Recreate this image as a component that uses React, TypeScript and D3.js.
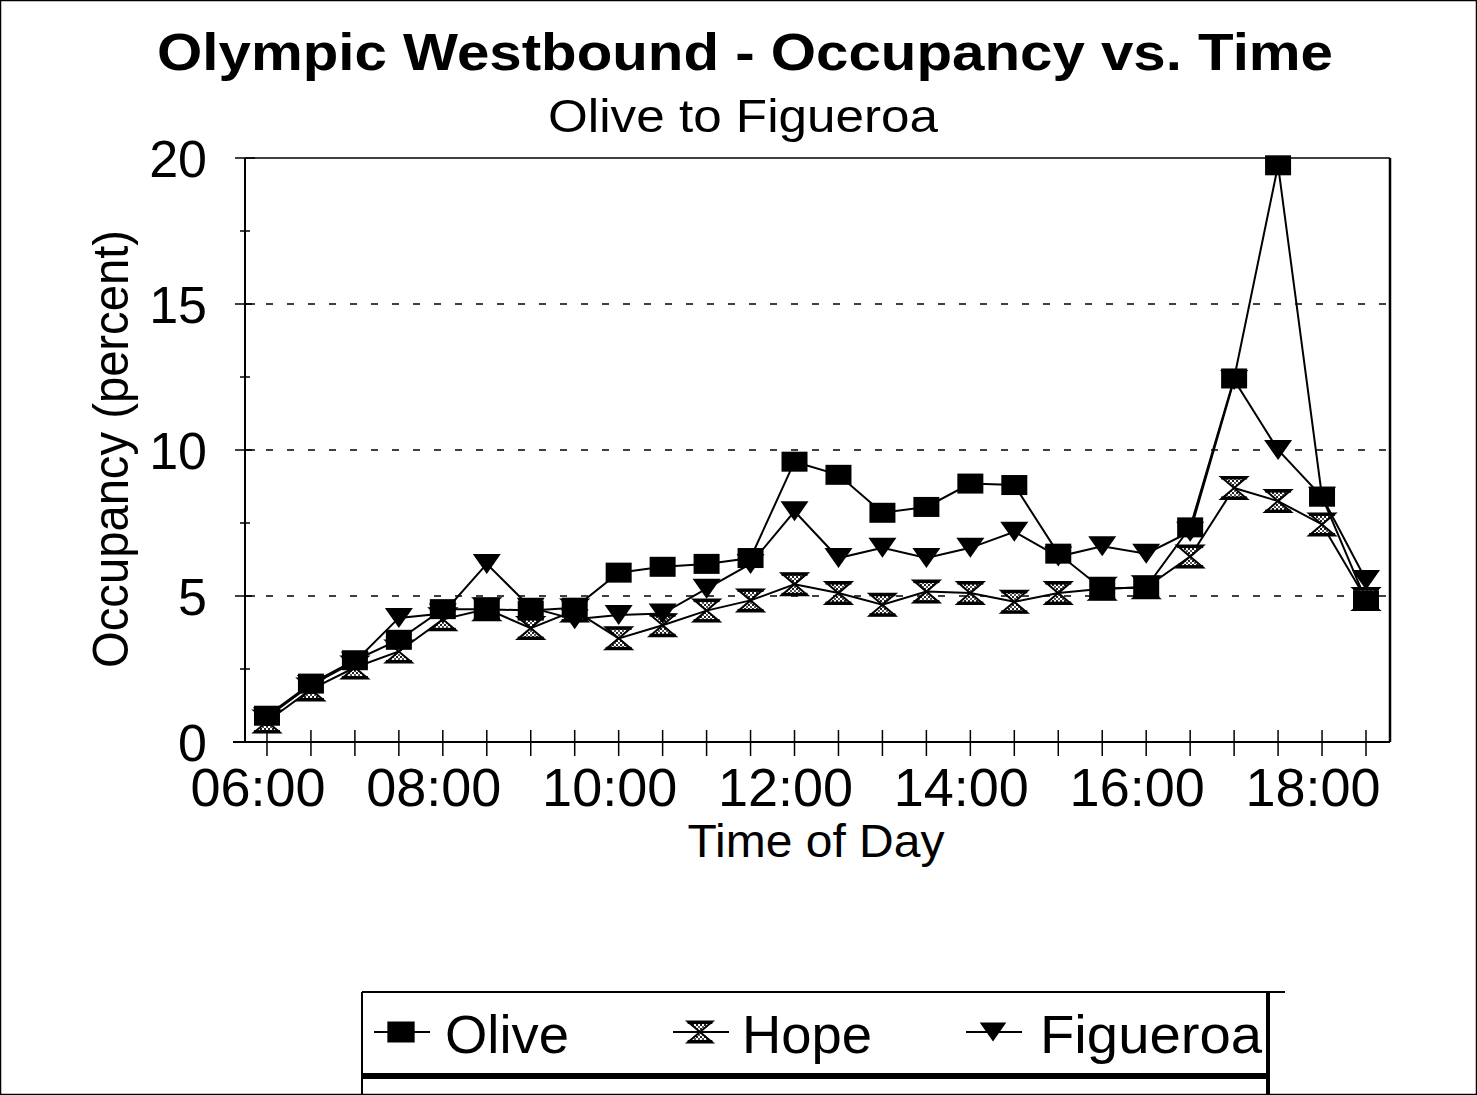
import React from "react";
import * as d3 from "d3";

const times = ["06:00","06:30","07:00","07:30","08:00","08:30","09:00","09:30","10:00","10:30","11:00","11:30","12:00","12:30","13:00","13:30","14:00","14:30","15:00","15:30","16:00","16:30","17:00","17:30","18:00","18:30"];
const olive = [0.9, 2.0, 2.8, 3.5, 4.55, 4.55, 4.5, 4.6, 5.8, 6.0, 6.1, 6.3, 9.6, 9.15, 7.85, 8.05, 8.85, 8.8, 6.45, 5.25, 5.3, 7.35, 12.45, 19.75, 8.4, 4.85];
const hope = [0.7, 1.8, 2.55, 3.1, 4.2, 4.55, 3.9, 4.5, 3.55, 4.0, 4.5, 4.85, 5.4, 5.1, 4.7, 5.15, 5.1, 4.8, 5.1, 5.25, 5.3, 6.35, 8.7, 8.25, 7.45, 4.9];
const figueroa = [0.85, 1.95, 2.75, 4.25, 4.4, 6.1, 4.6, 4.2, 4.35, 4.4, 5.25, 6.1, 7.9, 6.3, 6.65, 6.3, 6.65, 7.2, 6.35, 6.7, 6.45, 7.2, 12.4, 10.0, 8.4, 5.55];
const seriesNames = ["Olive", "Hope", "Figueroa"];
const xTickLabels = ["06:00","08:00","10:00","12:00","14:00","16:00","18:00"];
const yTicks = [0, 5, 10, 15, 20];
const yMinor = [2.5, 7.5, 12.5, 17.5];

const FONT = "'Liberation Sans', Arial, Helvetica, sans-serif";

function toHours(t: string) {
  const [h, m] = t.split(":").map(Number);
  return h + m / 60;
}

function Square({ x, y, w = 26, h = 20 }: any) {
  return <rect x={x - w / 2} y={y - h / 2} width={w} height={h} fill="#000" />;
}
function TriDown({ x, y, w = 28, h = 20 }: any) {
  return <path d={`M${x - w / 2},${y - h / 2}L${x + w / 2},${y - h / 2}L${x},${y + h / 2}Z`} fill="#000" />;
}
function Hourglass({ x, y, w = 26, h = 22 }: any) {
  const t = y - h / 2, b = y + h / 2, l = x - w / 2, r = x + w / 2;
  return (
    <g>
      <path d={`M${l},${t}L${r},${t}L${x},${y}Z M${l},${b}L${r},${b}L${x},${y}Z`} fill="url(#dots)" stroke="#000" strokeWidth={2} strokeLinejoin="miter" />
      <line x1={l} x2={r} y1={t + 1} y2={t + 1} stroke="#000" strokeWidth={3} />
      <line x1={l} x2={r} y1={b - 1} y2={b - 1} stroke="#000" strokeWidth={3} />
    </g>
  );
}

export default function App() {
  const W = 1477, H = 1095;
  const left = 245, right = 1390, top = 158, bottom = 742;
  const x = d3.scaleLinear().domain([5.75, 18.773]).range([left, right]);
  const y = d3.scaleLinear().domain([0, 20]).range([bottom, top]);

  const hours = times.map(toHours);
  const line = d3.line<number>().x((_, i) => x(hours[i])).y((d) => y(d));
  const data = [olive, hope, figueroa];

  const legendItems = [
    { name: seriesNames[0], mx: 401, tx: 445, kind: 0, tl: 124 },
    { name: seriesNames[1], mx: 700, tx: 742, kind: 1, tl: 130 },
    { name: seriesNames[2], mx: 993, tx: 1040, kind: 2, tl: 222 },
  ];
  const ly = 1032;

  const renderMarker = (kind: number, cx: number, cy: number, scale = 1, key?: any) => {
    if (kind === 0) return <Square key={key} x={cx} y={cy} w={26 * scale} h={20 * scale} />;
    if (kind === 1) return <Hourglass key={key} x={cx} y={cy} w={26 * scale} h={22 * scale} />;
    return <TriDown key={key} x={cx} y={cy} w={28 * scale} h={20 * scale} />;
  };

  return (
    <svg width={W} height={H} style={{ position: "absolute", left: 0, top: 0, background: "#fff" }} fontFamily={FONT}>
      <defs>
        <pattern id="dots" width="4" height="4" patternUnits="userSpaceOnUse">
          <rect width="4" height="4" fill="#fff" />
          <rect width="2" height="2" fill="#222" />
          <rect x="2" y="2" width="2" height="2" fill="#555" />
        </pattern>
      </defs>
      <rect x={0.5} y={0.5} width={W - 1} height={H - 1} fill="#fff" stroke="#000" strokeWidth={1.5} />

      {/* Titles */}
      <text x={745} y={70} textAnchor="middle" fontSize={52} fontWeight="bold" textLength={1176} lengthAdjust="spacingAndGlyphs">
        Olympic Westbound - Occupancy vs. Time
      </text>
      <text x={743} y={132} textAnchor="middle" fontSize={46} textLength={390} lengthAdjust="spacingAndGlyphs">
        Olive to Figueroa
      </text>

      {/* Gridlines */}
      {[5, 10, 15].map((v) => (
        <line key={v} x1={left} x2={right} y1={y(v)} y2={y(v)} stroke="#000" strokeWidth={1.5} strokeDasharray="7,14" />
      ))}

      {/* Frame */}
      <line x1={left} x2={right} y1={top} y2={top} stroke="#000" strokeWidth={1.5} />
      <line x1={right} x2={right} y1={top} y2={bottom} stroke="#000" strokeWidth={2.5} />
      <line x1={left} x2={left} y1={top} y2={bottom} stroke="#000" strokeWidth={2} />
      <line x1={233} x2={right} y1={bottom} y2={bottom} stroke="#000" strokeWidth={2} />

      {/* Y ticks */}
      {yTicks.map((v) => (
        <g key={v}>
          <line x1={left - 10} x2={left + 10} y1={y(v)} y2={y(v)} stroke="#000" strokeWidth={1.5} />
          <text x={207} y={y(v)} dy="0.36em" textAnchor="end" fontSize={52}>{v}</text>
        </g>
      ))}
      {yMinor.map((v) => (
        <line key={v} x1={left - 5} x2={left + 5} y1={y(v)} y2={y(v)} stroke="#000" strokeWidth={1.5} />
      ))}

      {/* X ticks */}
      {hours.map((h, i) => (
        <line key={i} x1={x(h)} x2={x(h)} y1={bottom - 12} y2={bottom + 14} stroke="#000" strokeWidth={1.5} />
      ))}
      {xTickLabels.map((t) => (
        <text key={t} x={x(toHours(t)) - 9} y={806} textAnchor="middle" fontSize={54}>{t}</text>
      ))}

      {/* Axis titles */}
      <text x={816} y={857} textAnchor="middle" fontSize={47} textLength={257} lengthAdjust="spacingAndGlyphs">Time of Day</text>
      <text transform={`translate(128,449) rotate(-90)`} textAnchor="middle" fontSize={50} textLength={438} lengthAdjust="spacingAndGlyphs">
        Occupancy (percent)
      </text>

      {/* Lines */}
      {data.map((d, k) => (
        <path key={k} d={line(d) || ""} fill="none" stroke="#000" strokeWidth={2} />
      ))}
      {/* Markers: draw hope, then figueroa, then olive */}
      {[1, 2, 0].map((k) =>
        data[k].map((v, i) => renderMarker(k, x(hours[i]), y(v), 1, `${k}-${i}`))
      )}

      {/* Legend */}
      <line x1={362} x2={1285} y1={992} y2={992} stroke="#000" strokeWidth={2} />
      <line x1={362} x2={362} y1={992} y2={H} stroke="#000" strokeWidth={2} />
      <line x1={1268} x2={1268} y1={992} y2={H} stroke="#000" strokeWidth={4} />
      <line x1={362} x2={1268} y1={1076} y2={1076} stroke="#000" strokeWidth={6} />
      {legendItems.map((it) => (
        <g key={it.name}>
          <line x1={it.mx - 27} x2={it.mx + 29} y1={ly} y2={ly} stroke="#000" strokeWidth={2} />
          {renderMarker(it.kind, it.mx, ly, it.kind === 0 ? 1.05 : 0.95)}
          <text x={it.tx} y={1053} fontSize={54} textLength={it.tl} lengthAdjust="spacingAndGlyphs">{it.name}</text>
        </g>
      ))}
    </svg>
  );
}
